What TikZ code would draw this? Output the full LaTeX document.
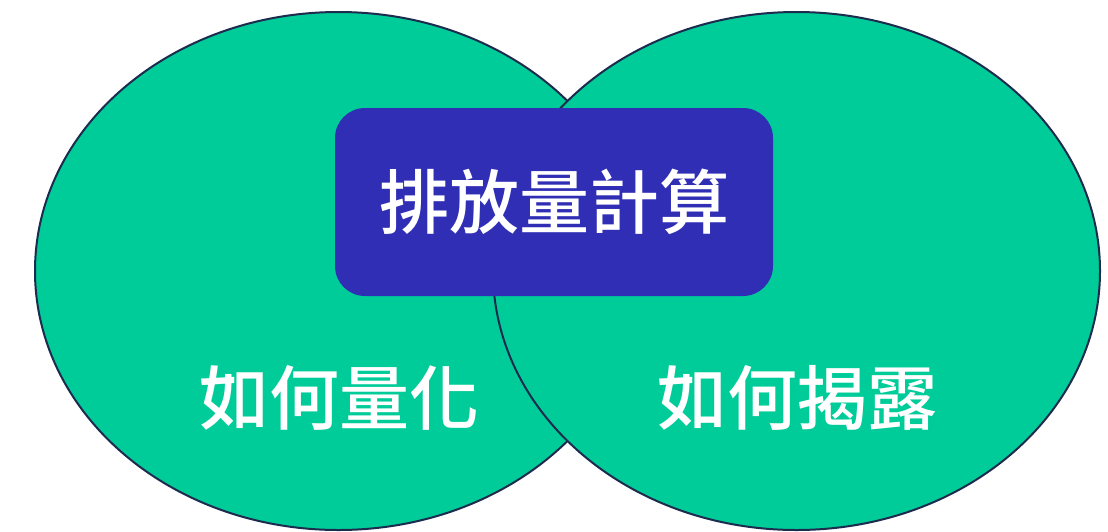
\documentclass[tikz,border=0pt]{standalone}
\usepackage{fontspec}
\newfontfamily\cjkmittel{Noto Sans CJK TC Medium}
\usetikzlibrary{shapes.geometric}
\definecolor{gruen}{HTML}{00CC99}
\definecolor{blau}{HTML}{2F2EB5}
\definecolor{rand}{HTML}{1C2B4E}
\tikzset{kreis/.style={ellipse,fill=gruen,draw=rand,line width=2pt,inner sep=0pt,minimum width=607pt,minimum height=518pt},
kasten/.style={rectangle,rounded corners=30pt,fill=blau,text=white,minimum width=438pt,minimum height=188pt,font=\cjkmittel\fontsize{70}{70}\selectfont},
schrift/.style={text=white,inner sep=0pt,font=\cjkmittel\fontsize{70}{70}\selectfont}}

\begin{document}
\begin{tikzpicture}[x=1pt,y=-1pt]
    \useasboundingbox (0,0) rectangle (1108,531);
    \path node [kreis] (links) at (338.5,271) {}
          node [kreis] (rechts) at (796.5,271) {}
          node [kasten] (mitte) at (554,202) {排放量計算}
          node [schrift] (quant) at (339,398) {如何量化}
          node [schrift] (offen) at (797,398) {如何揭露};
\end{tikzpicture}
\end{document}
